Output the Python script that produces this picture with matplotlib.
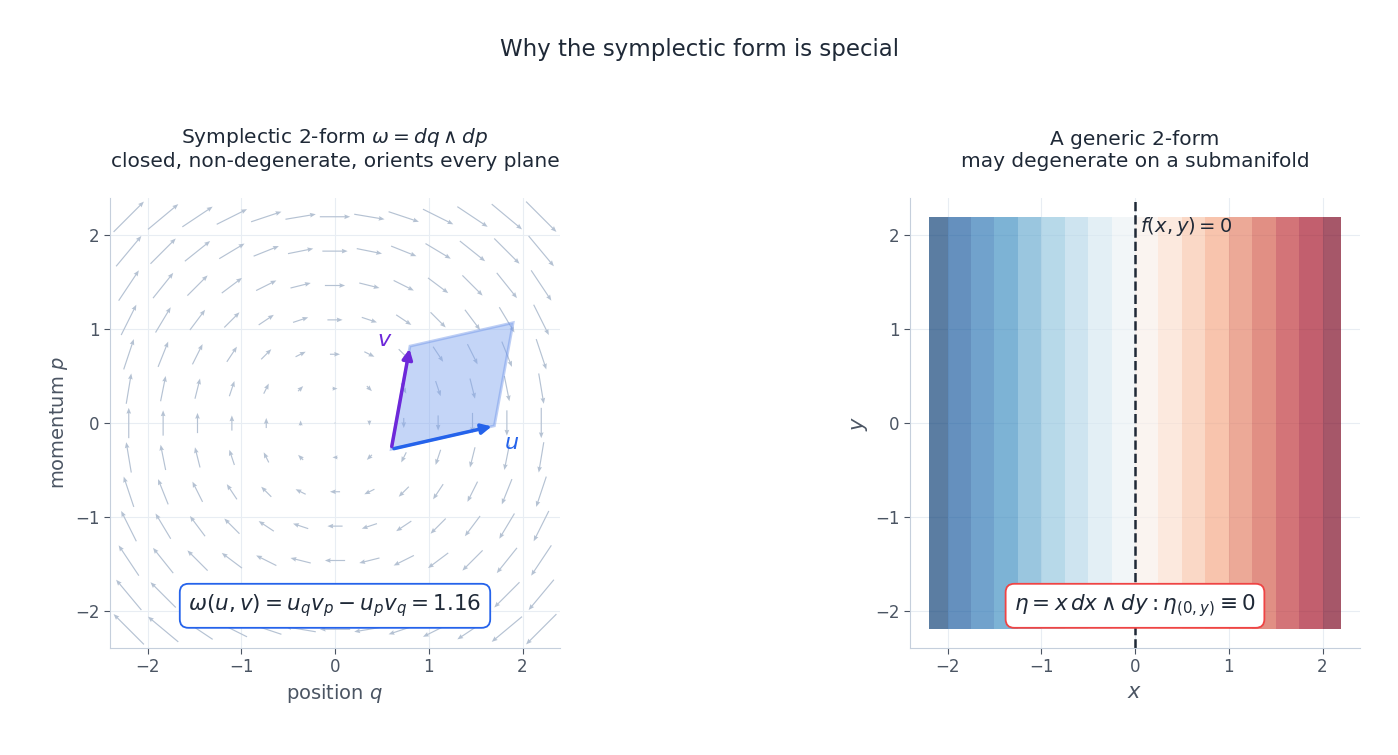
import numpy as np
import matplotlib
matplotlib.use("Agg")
import matplotlib.pyplot as plt
from matplotlib.patches import Polygon

# data
grid_vals = np.linspace(-2.2, 2.2, 13)
origin = [0.6, -0.28]
u_vec = [1.1, 0.25]
v_vec = [0.2, 1.1]
stripe_edges = np.arange(-2.25, 2.26, 0.25)
eta_y_range = [-2.2, 2.2]

TXT = "#1f2937"; AX = "#c5cfdc"; TK = "#4b5563"
fig = plt.figure(figsize=(13.98, 7.55), dpi=100)
fig.suptitle("Why the symplectic form is special", fontsize=16.5, color=TXT, y=0.95)
ax1 = fig.add_axes([110/1398, 1-648/755, 450/1398, 450/755])
ax2 = fig.add_axes([910/1398, 1-648/755, 450/1398, 450/755])

for ax in (ax1, ax2):
    ax.set_xlim(-2.4, 2.4); ax.set_ylim(-2.4, 2.4)
    ax.set_xticks([-2, -1, 0, 1, 2]); ax.set_yticks([-2, -1, 0, 1, 2])
    ax.set_xticklabels(["−2", "−1", "0", "1", "2"]); ax.set_yticklabels(["−2", "−1", "0", "1", "2"])
    ax.grid(color="#e8edf3", lw=0.8); ax.set_axisbelow(True)
    for s in ("top", "right"): ax.spines[s].set_visible(False)
    for s in ("left", "bottom"): ax.spines[s].set_color(AX)
    ax.tick_params(colors=TK, labelsize=12, length=4, color="#4b5563")

Q, P = np.meshgrid(grid_vals, grid_vals)
ax1.quiver(Q, P, P, -Q, color="#b5c2d3", pivot="mid", angles="xy", scale_units="xy",
           scale=6.8, width=0.0026, headwidth=4, headlength=5)
o = np.array(origin); u = np.array(u_vec); v = np.array(v_vec)
ax1.add_patch(Polygon([o, o+u, o+u+v, o+v], closed=True, facecolor="#7ea3ef", alpha=0.45,
                      edgecolor="#6d93e8", lw=2, zorder=3))
ax1.annotate("", xy=o+u, xytext=o, arrowprops=dict(arrowstyle="-|>", color="#2563eb", lw=2.5, mutation_scale=15), zorder=4)
ax1.annotate("", xy=o+v, xytext=o, arrowprops=dict(arrowstyle="-|>", color="#6d28d9", lw=2.5, mutation_scale=15), zorder=4)
ax1.text(o[0]+u[0]+0.1, o[1]+u[1]-0.25, "$u$", color="#2563eb", fontsize=16)
ax1.text(o[0]+v[0]-0.35, o[1]+v[1]+0.0, "$v$", color="#6d28d9", fontsize=16)
w = u[0]*v[1]-u[1]*v[0]
ax1.text(0, -1.95, r"$\omega(u,v) = u_q v_p - u_p v_q = %.2f$" % w, ha="center", va="center", fontsize=15.5, color=TXT,
         bbox=dict(boxstyle="round,pad=0.4", fc="white", ec="#2563eb", lw=1.3), zorder=5)
ax1.set_title("Symplectic 2-form $\\omega = dq \\wedge dp$\nclosed, non-degenerate, orients every plane",
              fontsize=14.5, color=TXT, pad=22)
ax1.set_xlabel("position $q$", fontsize=14, color=TK)
ax1.set_ylabel("momentum $p$", fontsize=14, color=TK)

X, Y = np.meshgrid(np.linspace(-2.2, 2.2, 400), np.array(eta_y_range))
ax2.contourf(X, Y, X, levels=stripe_edges, cmap="RdBu_r", alpha=0.68)
ax2.axvline(0, color="#1f2937", ls="--", lw=1.8)
ax2.text(0.05, 2.1, "$f(x,y) = 0$", fontsize=14, color=TXT, va="center")
ax2.text(0, -1.95, r"$\eta = x\,dx \wedge dy : \eta_{(0,y)} \equiv 0$", ha="center", va="center", fontsize=15.5,
         color=TXT, bbox=dict(boxstyle="round,pad=0.4", fc="white", ec="#ef4444", lw=1.3), zorder=5)
ax2.set_title("A generic 2-form\nmay degenerate on a submanifold", fontsize=14.5, color=TXT, pad=22)
ax2.set_xlabel("$x$", fontsize=15, color=TK)
ax2.set_ylabel("$y$", fontsize=15, color=TK)

fig.savefig("out.png", dpi=100)
